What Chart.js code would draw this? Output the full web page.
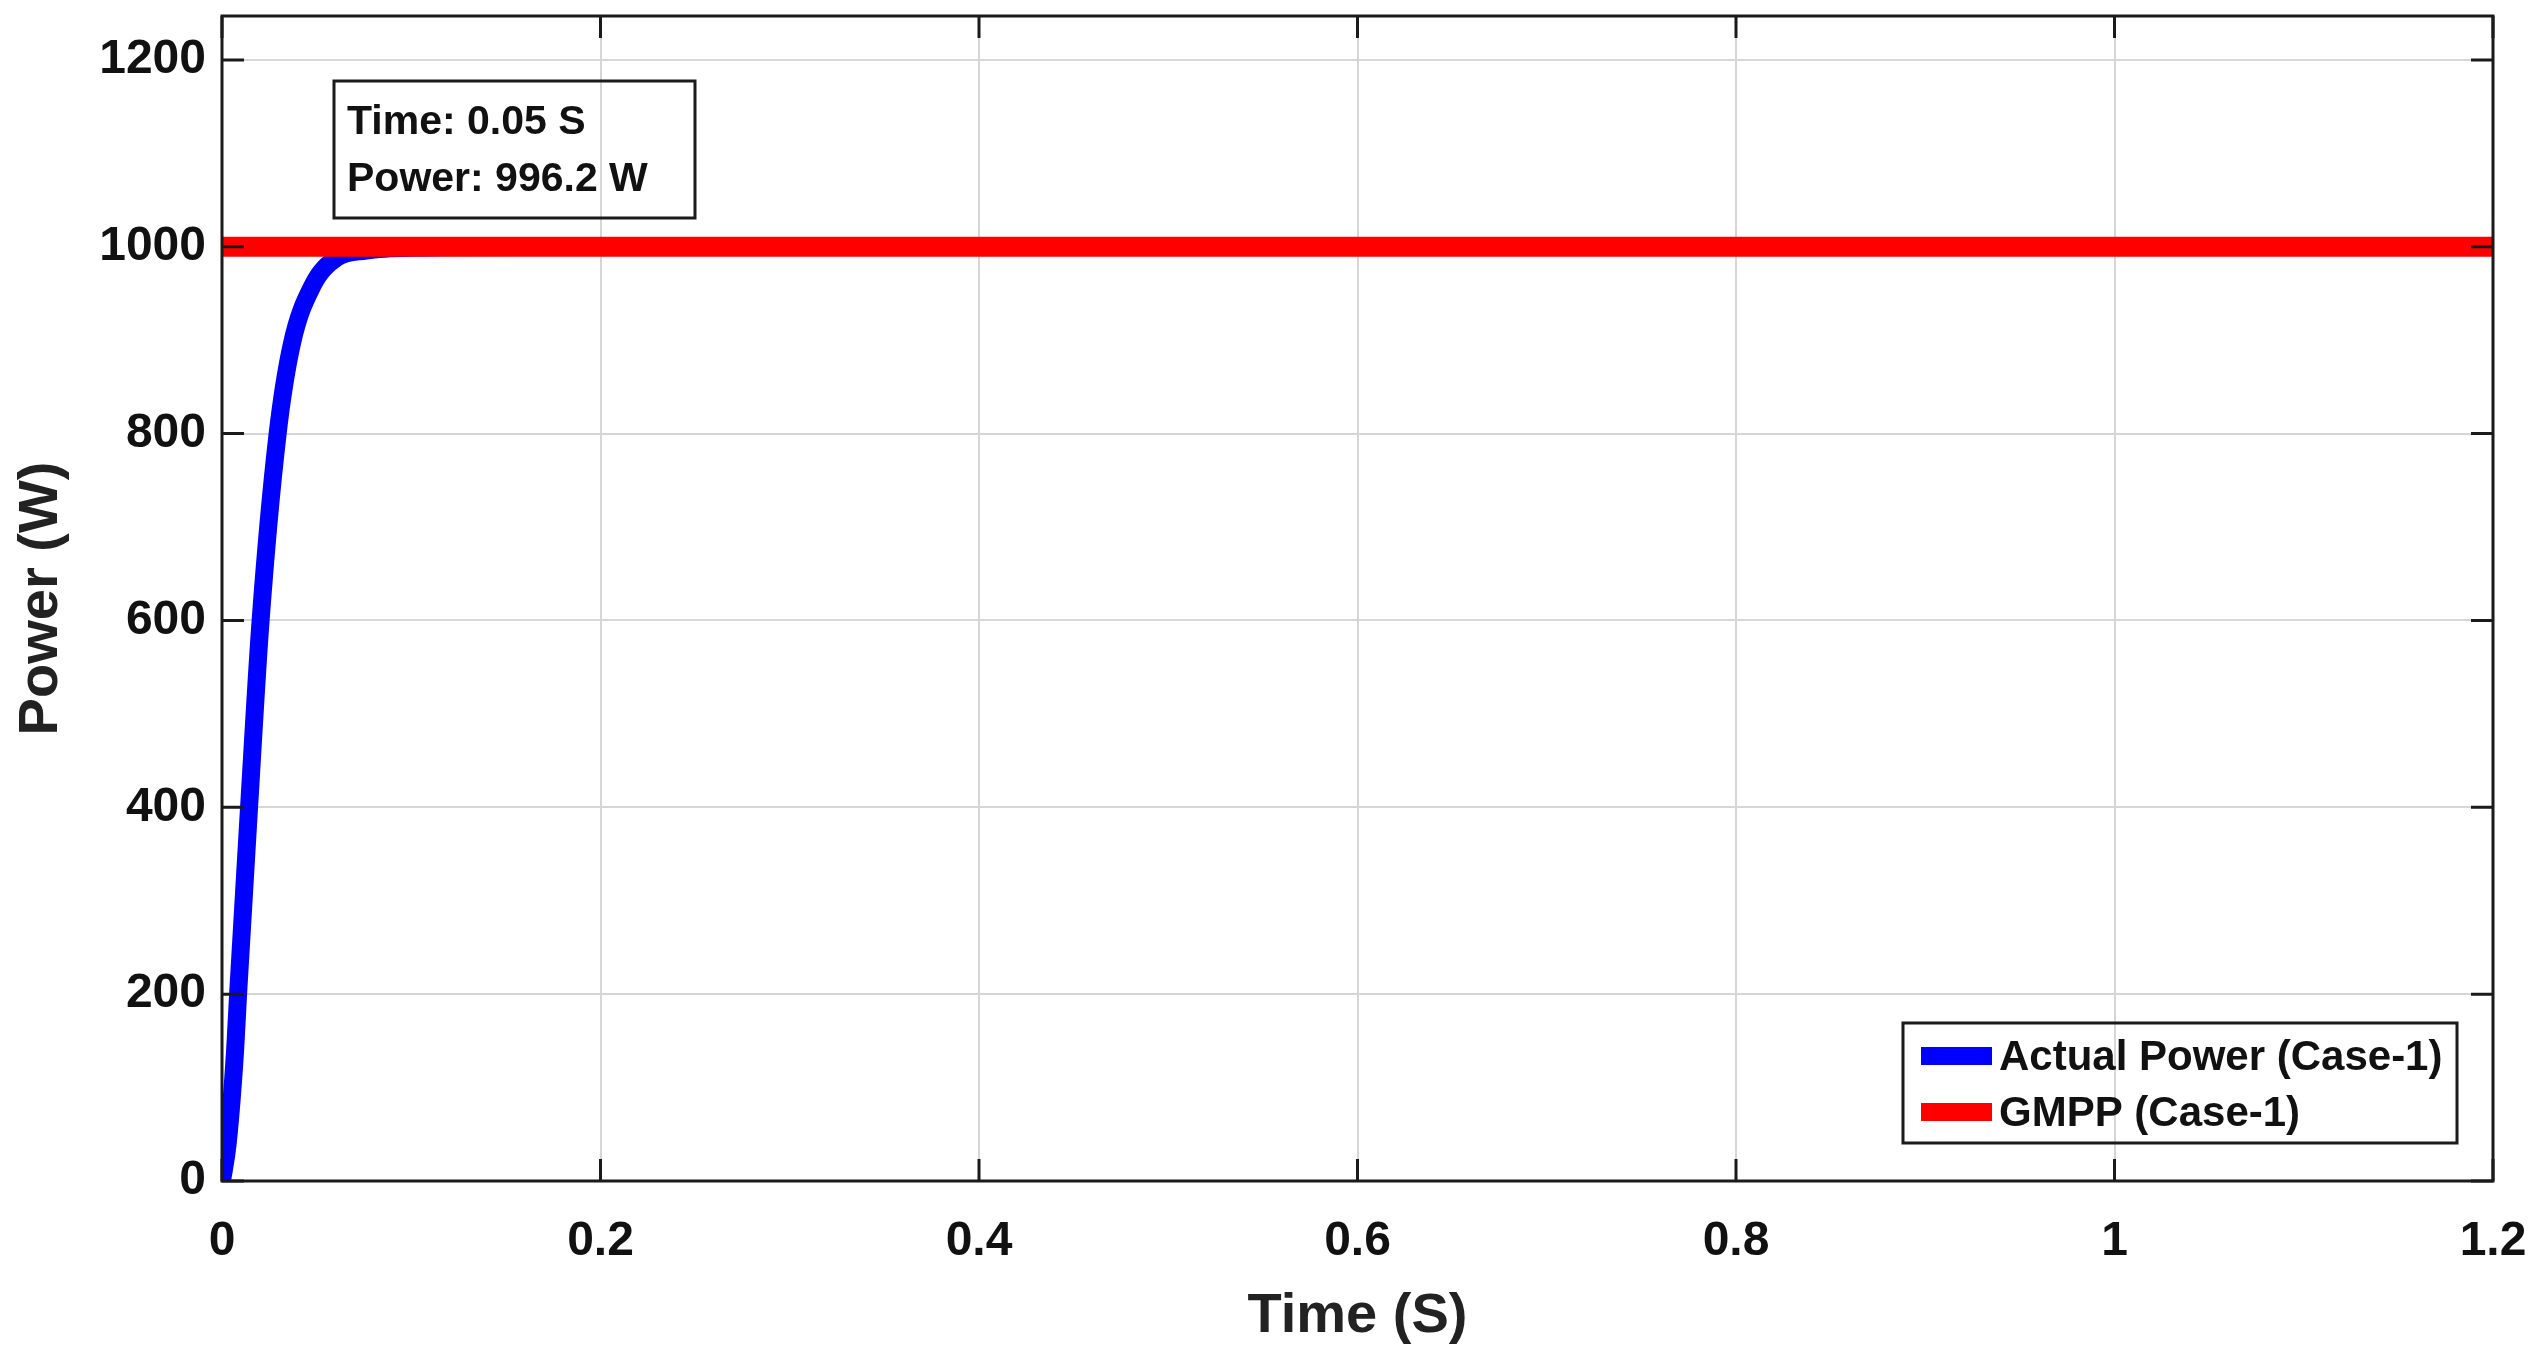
<!DOCTYPE html>
<html>
<head>
<meta charset="utf-8">
<script src="https://cdn.jsdelivr.net/npm/chart.js@4.4.0/dist/chart.umd.min.js"></script>
<style>
	html, body { margin: 0; padding: 0; background: #ffffff; }
	#grafico { display: block; }
</style>
</head>
<body>
<canvas id="grafico" width="2547" height="1364"></canvas>
<script>
// dati
const timeActual = [0, 0.003, 0.0069, 0.0085, 0.0143, 0.0204, 0.0294, 0.0368, 0.048, 0.0605, 0.076, 0.1, 0.2, 1.2];
const powerActual = [0, 40, 139, 200, 400, 600, 800, 895, 959, 988, 996, 999, 1000, 1000];
const timeGmpp = [0, 1.2];
const powerGmpp = [1000, 1000];
const seriesNames = ['Actual Power (Case-1)', 'GMPP (Case-1)'];
const seriesColors = ['#0000ff', '#ff0000'];
const xTicks = [0, 0.2, 0.4, 0.6, 0.8, 1, 1.2];
const yTicks = [0, 200, 400, 600, 800, 1000, 1200];
const tipLines = ['Time: 0.05 S', 'Power: 996.2 W'];

const fontFamily = '"Liberation Sans", Arial, Helvetica, sans-serif';

function toPoints(xs, ys) {
	return xs.map((x, i) => { return { x: x, y: ys[i] }; });
}

function formatTick(v) {
	return String(Number(v.toFixed(2)));
}

// box, tacche interne, legenda e data tip stile MATLAB
const matlabBox = {
	id: 'matlabBox',
	afterDatasetsDraw(chart) {
		const ctx = chart.ctx;
		const a = chart.chartArea;
		const xs = chart.scales.x;
		const ys = chart.scales.y;
		ctx.save();

		ctx.strokeStyle = '#1a1a1a';
		ctx.lineWidth = 3;
		ctx.strokeRect(a.left, a.top, a.right - a.left, a.bottom - a.top);

		ctx.beginPath();
		xTicks.forEach((v) => {
			let px = xs.getPixelForValue(v);
			ctx.moveTo(px, a.bottom); ctx.lineTo(px, a.bottom - 22);
			ctx.moveTo(px, a.top); ctx.lineTo(px, a.top + 22);
		});
		yTicks.forEach((v) => {
			let py = ys.getPixelForValue(v);
			ctx.moveTo(a.left, py); ctx.lineTo(a.left + 22, py);
			ctx.moveTo(a.right, py); ctx.lineTo(a.right - 22, py);
		});
		ctx.stroke();

		// legenda
		let lw = 554, lh = 120;
		let lx = a.right - 36 - lw;
		let ly = a.bottom - 38 - lh;
		ctx.lineWidth = 3;
		ctx.strokeStyle = '#1a1a1a';
		ctx.strokeRect(lx, ly, lw, lh);
		ctx.font = 'bold 42px ' + fontFamily;
		ctx.textBaseline = 'middle';
		ctx.textAlign = 'left';
		seriesNames.forEach((name, i) => {
			let cy = ly + 33 + i * 56;
			ctx.fillStyle = seriesColors[i];
			ctx.fillRect(lx + 18, cy - 9, 71, 18);
			ctx.fillStyle = '#111111';
			ctx.fillText(name, lx + 96, cy + 2);
		});

		// data tip
		let tx = a.left + 112, ty = a.top + 65;
		ctx.strokeRect(tx, ty, 361, 137);
		ctx.font = 'bold 41px ' + fontFamily;
		ctx.textBaseline = 'alphabetic';
		ctx.fillStyle = '#111111';
		tipLines.forEach((line, i) => {
			ctx.fillText(line, tx + 13, ty + 53 + i * 57);
		});

		ctx.restore();
	}
};

const config = {
	type: 'line',
	data: {
		datasets: [
			{
				label: seriesNames[0],
				data: toPoints(timeActual, powerActual),
				borderColor: seriesColors[0],
				borderWidth: 18,
				pointRadius: 0,
				cubicInterpolationMode: 'monotone',
				order: 2,
			},
			{
				label: seriesNames[1],
				data: toPoints(timeGmpp, powerGmpp),
				borderColor: seriesColors[1],
				borderWidth: 20,
				pointRadius: 0,
				order: 1,
			},
		],
	},
	options: {
		responsive: false,
		animation: false,
		layout: { padding: { left: 0, right: 54, top: 16, bottom: 0 } },
		plugins: {
			legend: { display: false },
			tooltip: { enabled: false },
		},
		scales: {
			x: {
				type: 'linear',
				min: 0,
				max: 1.2,
				afterBuildTicks: (scale) => { scale.ticks = xTicks.map((v) => { return { value: v }; }); },
				afterFit: (scale) => {
					scale.height = 183;
					scale.paddingLeft = 0;
					scale.paddingRight = 0;
				},
				grid: { color: '#d6d6d6', lineWidth: 2, drawTicks: false },
				border: { display: false },
				ticks: {
					padding: 32,
					color: '#111111',
					maxRotation: 0,
					autoSkip: false,
					font: { family: fontFamily, size: 48, weight: 'bold' },
					callback: (v) => formatTick(v),
				},
				title: {
					display: true,
					text: 'Time (S)',
					color: '#222222',
					font: { family: fontFamily, size: 56, weight: 'bold' },
					padding: { top: 0, bottom: 14 },
				},
			},
			y: {
				type: 'linear',
				min: 0,
				max: 1247,
				afterBuildTicks: (scale) => { scale.ticks = yTicks.map((v) => { return { value: v }; }); },
				afterFit: (scale) => {
					scale.width = 222;
					scale.paddingTop = 0;
					scale.paddingBottom = 0;
				},
				grid: { color: '#d6d6d6', lineWidth: 2, drawTicks: false },
				border: { display: false },
				ticks: {
					padding: 16,
					color: '#111111',
					font: { family: fontFamily, size: 48, weight: 'bold' },
					callback: (v) => formatTick(v),
				},
				title: {
					display: true,
					text: 'Power (W)',
					color: '#222222',
					font: { family: fontFamily, size: 56, weight: 'bold' },
					padding: { top: 8, bottom: 0 },
				},
			},
		},
	},
	plugins: [matlabBox],
};

let chart = new Chart(document.getElementById('grafico'), config);
</script>
</body>
</html>
